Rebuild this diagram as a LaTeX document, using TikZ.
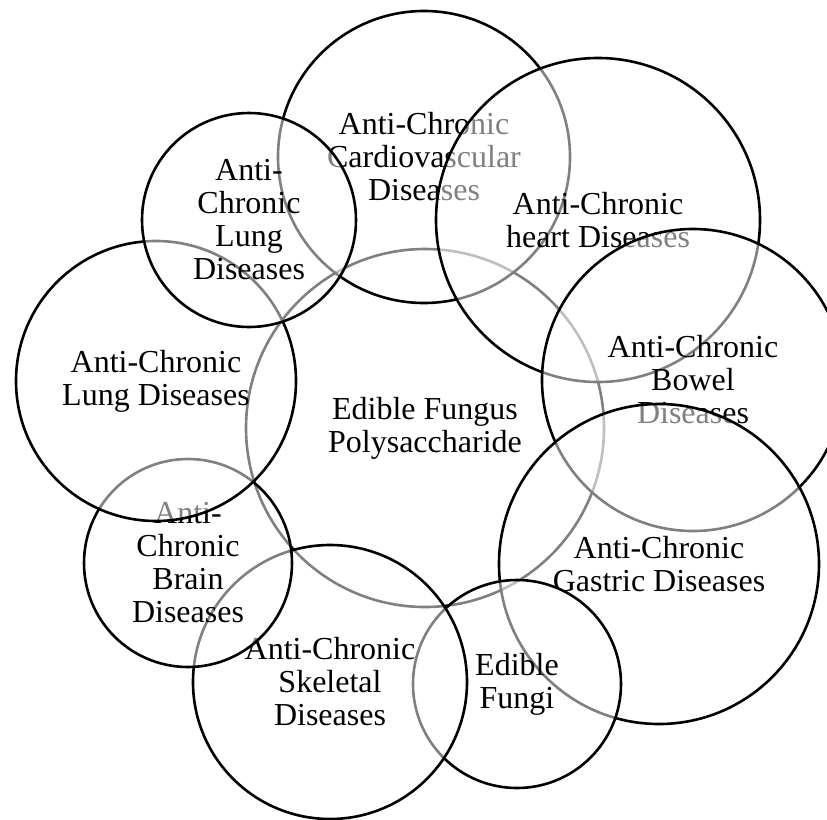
\documentclass[tikz,border=0pt]{standalone}
\usepackage{fontspec}
\setmainfont{Liberation Serif}
\usepackage{tikz}
\newcommand\bubblefont{\fontsize{32}{33}\selectfont}
\tikzset{
  bubble/.style={circle, draw=black, line width=2.6pt, fill=white, fill opacity=0.5, text opacity=1, align=center, inner sep=0pt, font=\bubblefont},
}

\begin{document}
\begin{tikzpicture}[x=1pt, y=-1pt]
  \useasboundingbox[fill=white] (0,0) rectangle (827,819);
  \node[bubble, minimum size=358] (efp) at (425,428) {Edible Fungus\\Polysaccharide};
  \node[bubble, minimum size=292] (cardio) at (424,157) {Anti-Chronic\\Cardiovascular\\Diseases};
  \node[bubble, minimum size=324] (heart) at (598,220) {Anti-Chronic\\heart Diseases};
  \node[bubble, minimum size=302] (bowel) at (693,380) {Anti-Chronic\\Bowel\\Diseases};
  \node[bubble, minimum size=320] (gastric) at (659,564) {Anti-Chronic\\Gastric Diseases};
  \node[bubble, minimum size=208] (fungi) at (517,684) {Edible\\Fungi};
  \node[bubble, minimum size=274] (skeletal) at (330,682) {Anti-Chronic\\Skeletal\\Diseases};
  \node[bubble, minimum size=208] (brain) at (188,563) {Anti-\\Chronic\\Brain\\Diseases};
  \node[bubble, minimum size=280] (lungA) at (156,381) {Anti-Chronic\\Lung Diseases};
  \node[bubble, minimum size=214] (lungB) at (249,220) {Anti-\\Chronic\\Lung\\Diseases};
\end{tikzpicture}
\end{document}
